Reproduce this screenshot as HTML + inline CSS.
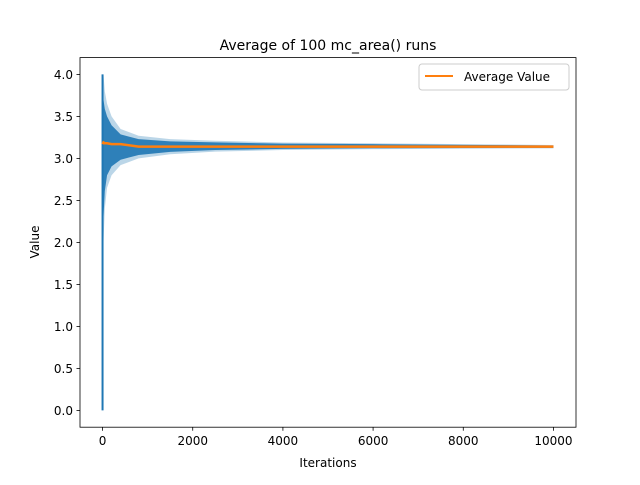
<!DOCTYPE html>
<html><head><meta charset="utf-8"><style>
body{margin:0;background:#fff;}
svg text{font-family:"DejaVu Sans","Liberation Sans",sans-serif;fill:#000;}
</style></head><body>
<svg id="chart" width="640" height="480" viewBox="0 0 640 480">
<rect width="640" height="480" fill="#fff"/>
<text x="328" y="50" font-size="14" text-anchor="middle">Average of 100 mc_area() runs</text>
<g id="plot"></g>
<rect x="80" y="57.6" width="496" height="369.6" fill="none" stroke="#000" stroke-width="0.8"/>
<g id="xticks"></g><g id="yticks"></g>
<text x="328" y="467" font-size="12" text-anchor="middle">Iterations</text>
<text x="39" y="242" font-size="12" text-anchor="middle" transform="rotate(-90 39 242)">Value</text>
<g>
<rect x="419" y="64" width="150" height="26" rx="3" fill="#fff" fill-opacity="0.8" stroke="#ccc"/>
<line x1="425" y1="76" x2="453" y2="76" stroke="#ff7f0e" stroke-width="2"/>
<text x="464" y="81" font-size="12">Average Value</text>
</g>
</svg>
<script>
const iters=[0,20,50,100,200,400,800,1500,2500,4000,6000,8000,10000];
const upper=[4.0,4.0,3.8,3.65,3.5,3.35,3.27,3.23,3.21,3.19,3.18,3.17,3.16];
const lower=[0.0,2.0,2.4,2.65,2.8,2.92,3.0,3.05,3.08,3.1,3.11,3.115,3.12];
const avg=[3.17,3.19,3.18,3.18,3.17,3.17,3.14,3.14,3.14,3.14,3.14,3.14,3.14];
const xTicks=[0,2000,4000,6000,8000,10000];
const yTicks=[0.0,0.5,1.0,1.5,2.0,2.5,3.0,3.5,4.0];
const NS="http://www.w3.org/2000/svg";
const X=v=>80+(v+500)*496/11000;
const Y=v=>427.2-(v+0.2)*369.6/4.4;
const plot=document.getElementById('plot');
function mk(t,a,p){const e=document.createElementNS(NS,t);for(const k in a)e.setAttribute(k,a[k]);p.appendChild(e);return e;}
function bandPath(k){
 const mid=i=>(upper[i]+lower[i])/2;
 const hi=i=>mid(i)+(upper[i]-mid(i))*k, lo=i=>mid(i)-(mid(i)-lower[i])*k;
 let d='M'+iters.map((t,i)=>X(t)+','+Y(hi(i))).join('L');
 for(let i=iters.length-1;i>=0;i--)d+='L'+X(iters[i])+','+Y(lo(i));
 return d+'Z';
}
const band=mk('path',{d:bandPath(1),fill:'#1f77b4','fill-opacity':0.3},plot);


const band2=mk('path',{d:bandPath(0.7),fill:'#1f77b4','fill-opacity':0.9},plot);


const spike=mk('line',{x1:X(iters[0]),y1:Y(lower[0]),x2:X(iters[0]),y2:Y(upper[0]),stroke:'#1f77b4','stroke-width':2},plot);


const av=mk('polyline',{points:iters.map((t,i)=>X(t)+','+Y(avg[i])).join(' '),fill:'none',stroke:'#ff7f0e','stroke-width':2.5},plot);


const xt=document.getElementById('xticks');
xTicks.forEach(v=>{
 mk('line',{x1:X(v),x2:X(v),y1:427.2,y2:430.7,stroke:'#000','stroke-width':0.8},xt);
 const t=mk('text',{x:X(v),y:445,'font-size':12,'text-anchor':'middle'},xt);t.textContent=v;
 
 
});
const yt=document.getElementById('yticks');
yTicks.forEach(v=>{
 mk('line',{x1:76.5,x2:80,y1:Y(v),y2:Y(v),stroke:'#000','stroke-width':0.8},yt);
 const t=mk('text',{x:73,y:Y(v)+4.5,'font-size':12,'text-anchor':'end'},yt);t.textContent=v.toFixed(1);
 
 
});
</script>
</body></html>
